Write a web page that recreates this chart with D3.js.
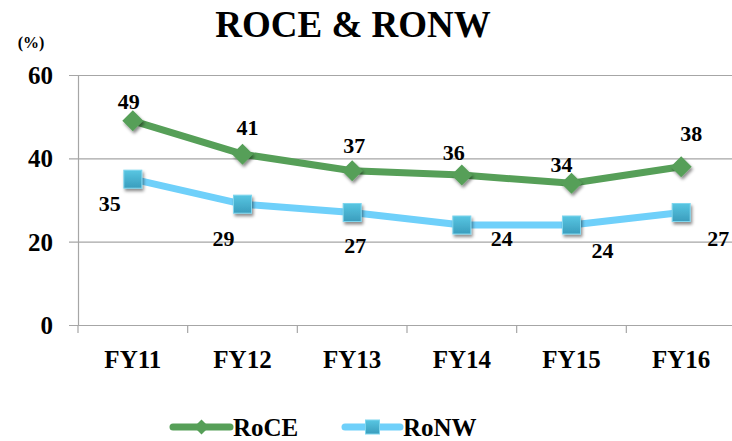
<!DOCTYPE html>
<html>
<head>
<meta charset="utf-8">
<script src="https://cdn.jsdelivr.net/npm/d3@7"></script>
<style>
  html, body { margin: 0; padding: 0; background: #fff; }
  svg { display: block; }
  text { font-family: "Liberation Serif", "Times New Roman", serif; font-weight: bold; fill: #000; }
</style>
</head>
<body>
<svg id="chart" width="732" height="441"></svg>
<script>
// Financial years on the x axis
const categories = ["FY11", "FY12", "FY13", "FY14", "FY15", "FY16"];
// Return on capital employed (%)
const roce = [49, 41, 37, 36, 34, 38];
// Return on net worth (%)
const ronw = [35, 29, 27, 24, 24, 27];
// Y axis tick values
const yTicks = [0, 20, 40, 60];

// Label offsets (label centre relative to its point), per series
const roceLabelOffsets = [[-4, -20], [5, -27], [2, -26], [-8, -23], [-10, -19], [10, -33]];
const ronwLabelOffsets = [[-23, 24], [-19, 34], [3, 33], [40, 13], [31, 25], [37, 26]];

const svg = d3.select("#chart");
const plotLeft = 78, plotRight = 736, plotTop = 75, plotBottom = 325;

const x = d3.scaleBand().domain(categories).range([plotLeft, plotRight]).paddingInner(0).paddingOuter(0);
const y = d3.scaleLinear().domain([0, 60]).range([plotBottom, plotTop]);

const greenLine = "#569f58";
const blueLine = "#6fd0fa";
const gridColor = "#a6a6a6";

// defs: marker shadow and square gradient
const defs = svg.append("defs");
const shadow = defs.append("filter").attr("id", "shadow")
  .attr("x", "-50%").attr("y", "-50%").attr("width", "200%").attr("height", "200%");
shadow.append("feDropShadow").attr("dx", 1.5).attr("dy", 2.5).attr("stdDeviation", 1.6)
  .attr("flood-color", "#000").attr("flood-opacity", 0.45);
const grad = defs.append("linearGradient").attr("id", "sqGrad")
  .attr("x1", 0).attr("y1", 0).attr("x2", 0).attr("y2", 1);
grad.append("stop").attr("offset", "0%").attr("stop-color", "#58c6e2");
grad.append("stop").attr("offset", "100%").attr("stop-color", "#3a9dbd");

// Title
svg.append("text").attr("x", 353).attr("y", 37).attr("text-anchor", "middle")
  .style("font-size", "37px").text("ROCE & RONW");

// Unit label
svg.append("text").attr("x", 31).attr("y", 48).attr("text-anchor", "middle")
  .style("font-size", "16px").text("(%)");

// Y axis with gridlines
const yAxis = svg.append("g").attr("transform", `translate(${plotLeft},0)`)
  .call(d3.axisLeft(y).tickValues(yTicks).tickSizeInner(-(plotRight - plotLeft)).tickSizeOuter(0).tickPadding(25));
yAxis.select(".domain").attr("stroke", gridColor).attr("stroke-width", 1.2);
yAxis.selectAll(".tick line").attr("x1", -9).attr("stroke", gridColor).attr("stroke-width", 1.2);
yAxis.selectAll(".tick text")
  .style("font-size", "25px").style("font-family", "Liberation Serif, serif").style("font-weight", "bold")
  .attr("dy", "0.34em").attr("fill", "#000");

// X axis labels
const xAxis = svg.append("g").attr("transform", `translate(0,${plotBottom})`)
  .call(d3.axisBottom(x).tickSize(0).tickPadding(0));
xAxis.select(".domain").remove();
xAxis.selectAll(".tick text")
  .attr("y", 43).attr("dy", 0)
  .style("font-size", "25px").style("font-family", "Liberation Serif, serif").style("font-weight", "bold")
  .attr("fill", "#000");

// Category boundary tick marks
svg.append("g").selectAll("line")
  .data(d3.range(categories.length + 1))
  .join("line")
  .attr("x1", i => x.range()[0] + i * x.step())
  .attr("x2", i => x.range()[0] + i * x.step())
  .attr("y1", plotBottom).attr("y2", plotBottom + 8)
  .attr("stroke", gridColor).attr("stroke-width", 1.2);

const cx = (d, i) => x(categories[i]) + x.bandwidth() / 2;
const line = d3.line().x(cx).y(d => y(d));

// Series lines
svg.append("path").datum(ronw).attr("d", line)
  .attr("fill", "none").attr("stroke", blueLine).attr("stroke-width", 7).attr("stroke-linejoin", "round");
svg.append("path").datum(roce).attr("d", line)
  .attr("fill", "none").attr("stroke", greenLine).attr("stroke-width", 7).attr("stroke-linejoin", "round");

// Markers
const diamond = s => `M0,${-s}L${s},0L0,${s}L${-s},0Z`;
svg.append("g").selectAll("path").data(roce).join("path")
  .attr("d", diamond(10.5))
  .attr("transform", (d, i) => `translate(${cx(d, i)},${y(d)})`)
  .attr("fill", greenLine).attr("filter", "url(#shadow)");

svg.append("g").selectAll("rect").data(ronw).join("rect")
  .attr("x", (d, i) => cx(d, i) - 9).attr("y", d => y(d) - 9)
  .attr("width", 18).attr("height", 18)
  .attr("fill", "url(#sqGrad)").attr("stroke", "#7fd6ee").attr("stroke-width", 1)
  .attr("filter", "url(#shadow)");

// Data labels
svg.append("g").selectAll("text").data(roce).join("text")
  .attr("x", (d, i) => cx(d, i) + roceLabelOffsets[i][0])
  .attr("y", (d, i) => y(d) + roceLabelOffsets[i][1])
  .attr("dy", "0.35em").attr("text-anchor", "middle")
  .style("font-size", "22px").text(d => d);

svg.append("g").selectAll("text").data(ronw).join("text")
  .attr("x", (d, i) => cx(d, i) + ronwLabelOffsets[i][0])
  .attr("y", (d, i) => y(d) + ronwLabelOffsets[i][1])
  .attr("dy", "0.35em").attr("text-anchor", "middle")
  .style("font-size", "22px").text(d => d);

// Legend
const legend = svg.append("g");
const legendItems = [
  { name: "RoCE", color: greenLine, x0: 173, x1: 230, kind: "diamond" },
  { name: "RoNW", color: blueLine, x0: 345, x1: 400, kind: "square" }
];
const ly = 427;
legendItems.forEach(it => {
  legend.append("line").attr("x1", it.x0).attr("x2", it.x1).attr("y1", ly).attr("y2", ly)
    .attr("stroke", it.color).attr("stroke-width", 7).attr("stroke-linecap", "round");
  const mx = (it.x0 + it.x1) / 2;
  if (it.kind === "diamond") {
    legend.append("path").attr("d", diamond(7.5))
      .attr("transform", `translate(${mx},${ly})`).attr("fill", it.color);
  } else {
    legend.append("rect").attr("x", mx - 7).attr("y", ly - 7).attr("width", 14).attr("height", 14)
      .attr("fill", "url(#sqGrad)").attr("stroke", "#7fd6ee").attr("stroke-width", 1);
  }
  legend.append("text").attr("x", it.x1 + 3).attr("y", ly).attr("dy", "0.35em")
    .style("font-size", "25px").text(it.name);
});
</script>
</body>
</html>
